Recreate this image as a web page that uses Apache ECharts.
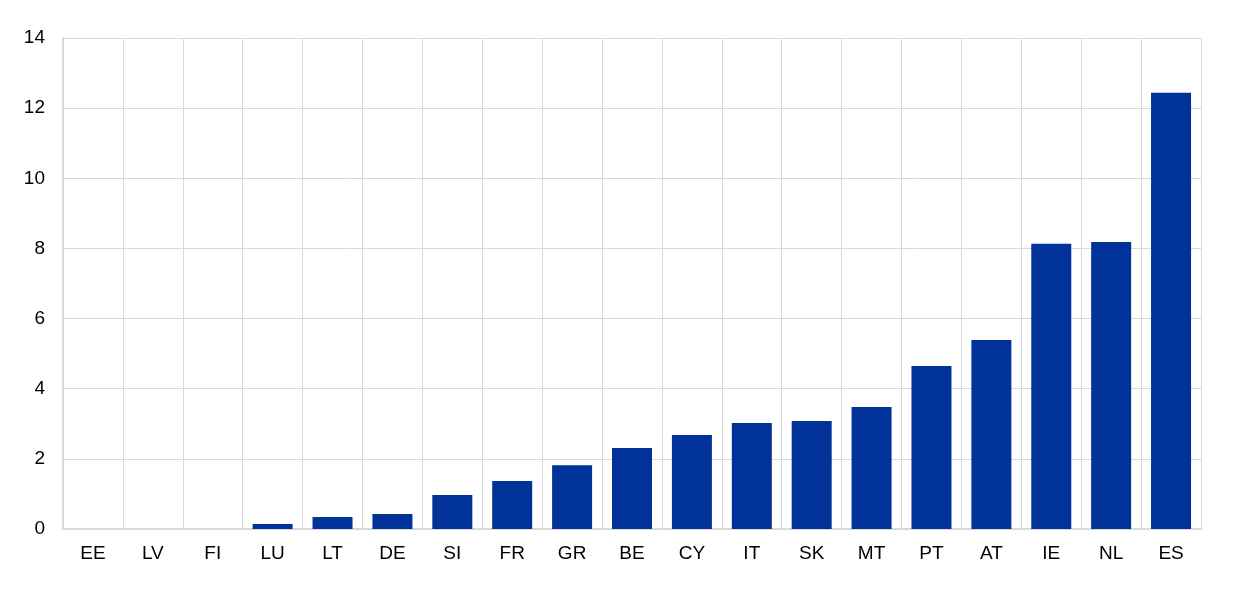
<!DOCTYPE html>
<html><head><meta charset="utf-8">
<script src="https://cdn.jsdelivr.net/npm/echarts@6/dist/echarts.min.js"></script>
<style>html,body{margin:0;padding:0;background:#fff}#c{width:1240px;height:589px}</style>
</head><body><div id="c"></div>
<script>
const categories = ["EE","LV","FI","LU","LT","DE","SI","FR","GR","BE","CY","IT","SK","MT","PT","AT","IE","NL","ES"];
const values = [0,0,0,0.14,0.34,0.43,0.97,1.37,1.82,2.31,2.68,3.02,3.08,3.48,4.65,5.39,8.13,8.18,12.44];
const yTicks = {min:0, max:14, interval:2};

const chart = echarts.init(document.getElementById('c'));
chart.setOption({
  animation:false,
  grid:{left:63, right:39, top:38, bottom:60, containLabel:false},
  xAxis:{type:'category', data:categories,
    axisLine:{show:true, lineStyle:{color:'#d9d9d9', width:2}},
    axisTick:{show:false},
    splitLine:{show:true, lineStyle:{color:'#d9d9d9', width:1}},
    axisLabel:{color:'#000', fontSize:19, fontFamily:'Liberation Sans, Arial', margin:15, interval:0}
  },
  yAxis:{type:'value', min:yTicks.min, max:yTicks.max, interval:yTicks.interval,
    axisLine:{show:true, lineStyle:{color:'#d9d9d9', width:2}},
    axisTick:{show:false},
    splitLine:{show:true, lineStyle:{color:'#d9d9d9', width:1}},
    axisLabel:{color:'#000', fontSize:19, fontFamily:'Liberation Sans, Arial', margin:18}
  },
  series:[{type:'bar', data:values, barWidth:40, itemStyle:{color:'#003299'}}]
});
</script></body></html>
